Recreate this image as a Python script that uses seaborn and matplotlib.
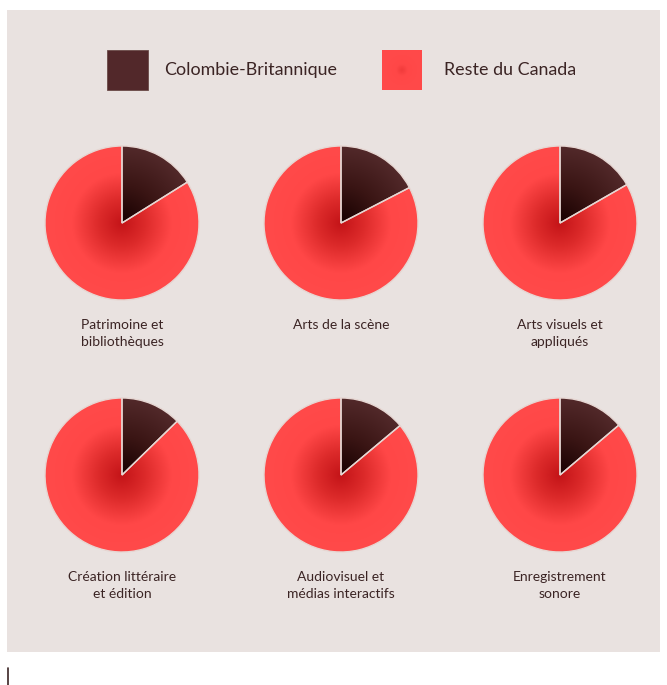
import seaborn as sns
import matplotlib.pyplot as plt
import numpy as np
from matplotlib.colors import LinearSegmentedColormap
from matplotlib.patches import Rectangle

# données : part de la Colombie-Britannique (%) par secteur
secteurs = ["Patrimoine et\nbibliothèques", "Arts de la scène", "Arts visuels et\nappliqués",
            "Création littéraire\net édition", "Audiovisuel et\nmédias interactifs", "Enregistrement\nsonore"]
part_cb = [16.1, 17.4, 16.7, 12.7, 13.9, 13.8]
legende = ["Colombie-Britannique", "Reste du Canada"]

sns.set_theme(style="white")
plt.rcParams['font.family'] = ['Lato', 'DejaVu Sans']

W, H = 667, 685
fig = plt.figure(figsize=(W / 100, H / 100), dpi=100)
fig.patch.set_facecolor("white")

txt_col = "#3b2424"
cmap_cb = LinearSegmentedColormap.from_list("cb", ["#170000", "#3a1514", "#52292a"])
cmap_rc = LinearSegmentedColormap.from_list("rc", [(0, "#c41418"), (0.3, "#dc2a2a"), (0.65, "#ff4747"), (1, "#ff4a4a")])

# fond et légende en coordonnées pixel
bg = fig.add_axes([0, 0, 1, 1], zorder=0)
bg.set_xlim(0, W)
bg.set_ylim(H, 0)
bg.axis("off")
bg.add_patch(Rectangle((7, 10), 653, 642, color="#e9e2e0", lw=0))
bg.plot([7.5, 7.5], [668, 685], color="#3b2424", lw=1.2)

yy, xx = np.mgrid[-1:1:200j, -1:1:200j]
rr = np.sqrt(xx ** 2 + yy ** 2)

bg.add_patch(Rectangle((107, 50), 41, 40, facecolor="#52282a", edgecolor="#6a4a48", lw=0.6))
bg.imshow(np.clip(rr, 0, 1) * 0.5 + 0.5, extent=(382, 422, 90, 50), cmap=cmap_rc, vmin=0, vmax=1,
          interpolation="bilinear", zorder=2)
bg.text(164, 70, legende[0], fontsize=12.9, color=txt_col, va="center", ha="left")
bg.text(444, 70, legende[1], fontsize=12.9, color=txt_col, va="center", ha="left")
bg.set_xlim(0, W)
bg.set_ylim(H, 0)

cx = [122, 341, 560]
cy = [223, 475]
R = 77
pad = 82

for i, (nom, val) in enumerate(zip(secteurs, part_cb)):
    x0 = cx[i % 3]
    y0 = cy[i // 3]
    ax = fig.add_axes([(x0 - pad) / W, 1 - (y0 + pad) / H, 2 * pad / W, 2 * pad / H], zorder=1)
    wedges, _ = ax.pie([val, 100 - val], startangle=90, counterclock=False, radius=1,
                       wedgeprops=dict(edgecolor="#e6d6d2", linewidth=1.0))
    lim = pad / R
    ax.axis("off")
    for w, cm in zip(wedges, [cmap_cb, cmap_rc]):
        im = ax.imshow(rr, extent=(-1, 1, -1, 1), cmap=cm, vmin=0, vmax=1, origin="lower",
                       interpolation="bilinear", zorder=1)
        im.set_clip_path(w)
        w.set_facecolor("none")
        w.set_zorder(2)
    ax.set_xlim(-lim, lim)
    ax.set_ylim(-lim, lim)
    ax.set_aspect("equal")
    bg.text(x0, y0 + 96, nom, fontsize=10, color=txt_col, ha="center", va="top", linespacing=1.5)

fig.savefig("out.png", dpi=100)
